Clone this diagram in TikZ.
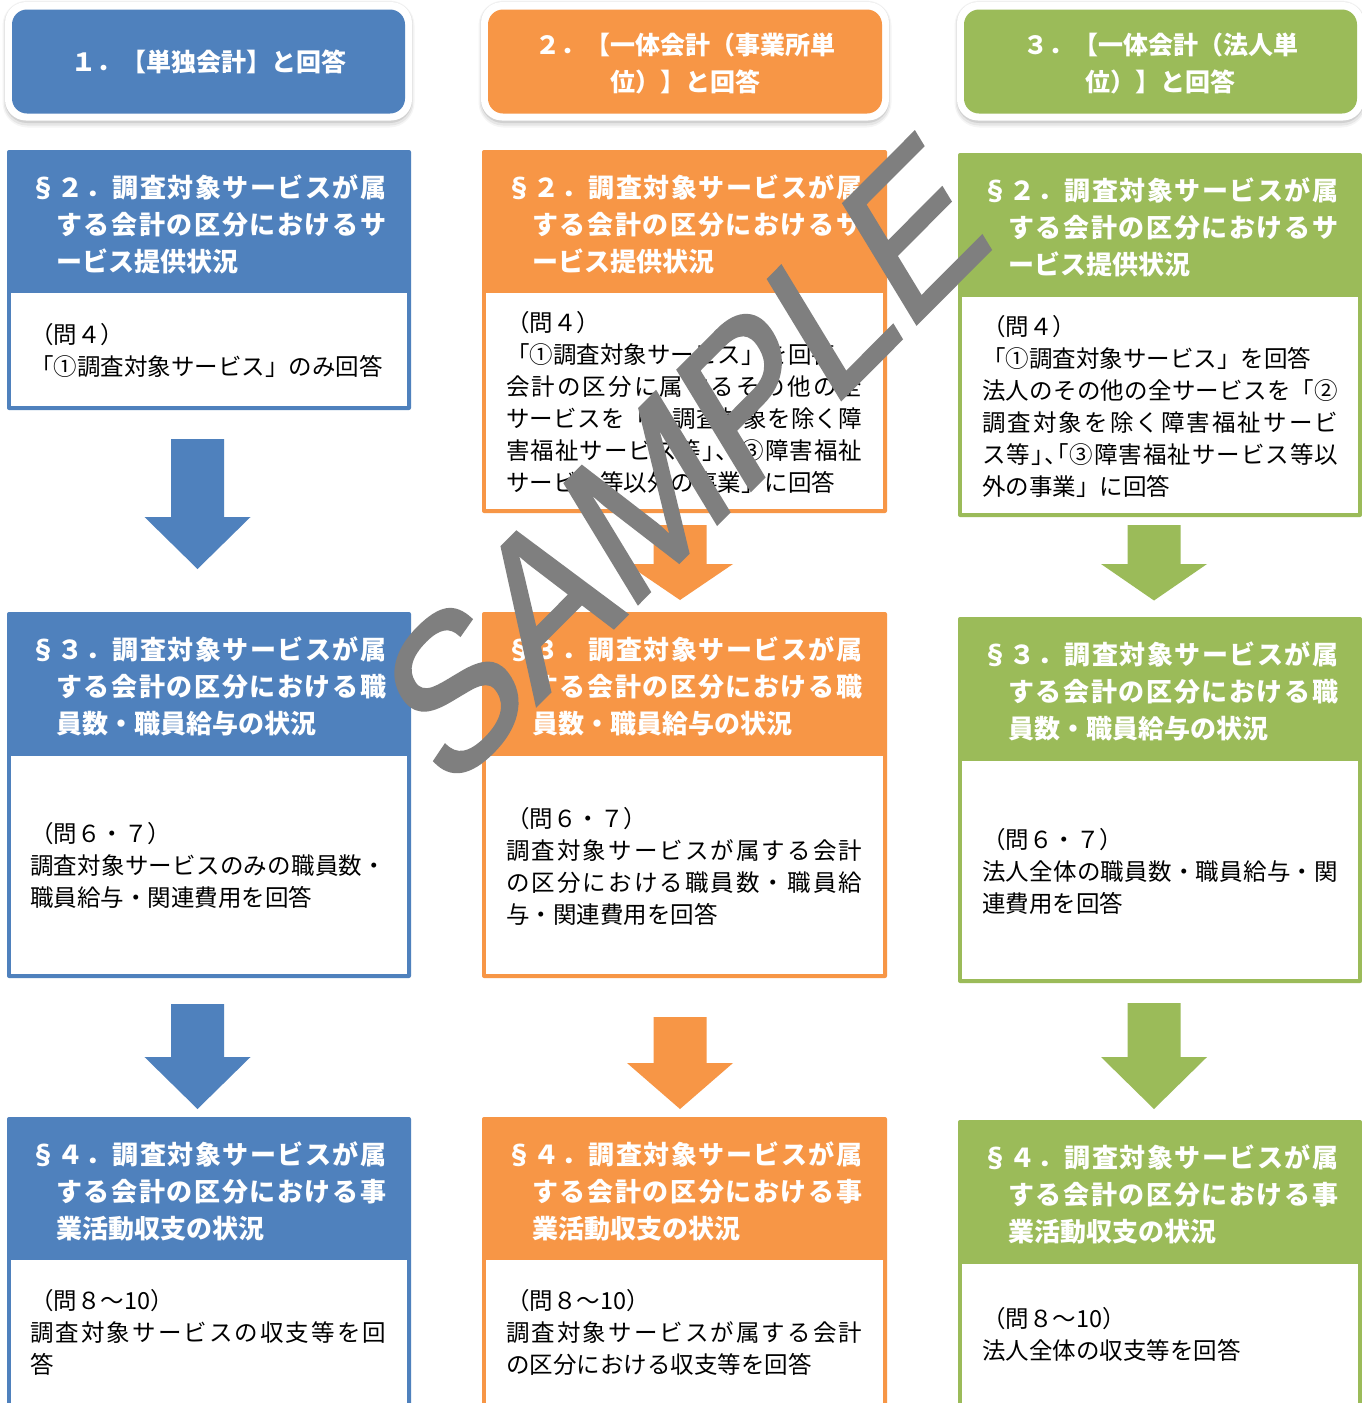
\documentclass[tikz,border=0pt]{standalone}
\usepackage{fontspec}
\newfontfamily\jp{Noto Sans CJK JP}
\newfontfamily\wmfont[FakeBold=1.6]{Liberation Sans}
\definecolor{cblue}{HTML}{4F81BD}
\definecolor{corange}{HTML}{F79646}
\definecolor{cgreen}{HTML}{9BBB59}
\definecolor{wmgray}{HTML}{7F7F7F}
\makeatletter
\newcommand\JL[2]{\hbox to #1{\jl@first#2\relax}}
\def\jl@first#1{#1\jl@rest}
\def\jl@rest#1{\ifx#1\relax\else\hskip 0pt plus 1fil\relax #1\expandafter\jl@rest\fi}
\makeatother
\newcommand\HC{\hbox to .5em{」\hss}}
\newcommand\HT{\hbox to .5em{、\hss}}
\newcommand\HO{\hbox to .5em{\hss「}}
\newcommand\ctrline[1]{\hbox to 0pt{\hss#1\hss}}
\newcommand\hdrtext[3]{\vtop{\JL{356pt}{#1}\hbox{\hskip26pt\JL{330pt}{#2}}\hbox{\hskip26pt\relax #3}}}
\newcommand\secbox[6]{%
  \fill[#6,rounded corners=2pt] (#1,#3) rectangle (#2,#5);
  \fill[white] (#1+4,#4) rectangle (#2-4,#5-4);}
\newcommand\blockarrow[5]{%
  \fill[#5] (#1-26.5,#2) -- (#1+26.5,#2) -- (#1+26.5,#3) -- (#1+53,#3) -- (#1,#4) -- (#1-53,#3) -- (#1-26.5,#3) -- cycle;}
\newcommand\titlebox[3]{%
  \fill[black,opacity=.04,rounded corners=25pt] (#1-2.5,0.5) rectangle (#2+2.5,127.5);
  \fill[black,opacity=.06,rounded corners=23pt] (#1-1.2,1.5) rectangle (#2+1.2,125.5);
  \fill[black,opacity=.09,rounded corners=22pt] (#1,2.5) rectangle (#2,123);
  \fill[white,rounded corners=21pt] (#1,2) rectangle (#2,120.5);
  \fill[#3,rounded corners=15pt] (#1+7,9.5) rectangle (#2-7,113.5);}
\tikzset{
  ttl/.style={inner sep=0pt, anchor=base, text=white, font=\jp\bfseries\fontsize{25}{37}\selectfont},
  hdr/.style={inner sep=0pt, anchor=base west, text=white, font=\jp\bfseries\fontsize{26}{37}\selectfont},
  bdy/.style={inner sep=0pt, anchor=base west, text=black, font=\jp\fontsize{23.5}{32}\selectfont},
  wm/.style={inner sep=0pt, anchor=base west, text=wmgray, font=\wmfont\fontsize{172}{172}\selectfont}
}
\begin{document}
\begin{tikzpicture}[x=1pt,y=-1pt]
\useasboundingbox (0,0) rectangle (1362,1403);
\clip (0,0) rectangle (1362,1403);
\fill[white] (0,0) rectangle (1362,1403);
% title boxes
\titlebox{5}{412}{cblue}
\titlebox{481}{889}{corange}
\titlebox{957}{1364}{cgreen}
\node[ttl] (t1) at (208.5,71.5) {１．【単独会計】と回答};
\node[ttl] (t2) at (685.5,54.5) {\vtop{\ctrline{２．【一体会計（事業所単}\ctrline{位）】と回答}}};
\node[ttl] (t3) at (1160.5,54.5) {\vtop{\ctrline{３．【一体会計（法人単}\ctrline{位）】と回答}}};
% section boxes
\secbox{7}{411}{150}{293}{410}{cblue}
\secbox{7}{411}{612}{756}{978}{cblue}
\secbox{7}{411}{1117}{1260}{1420}{cblue}
\secbox{482}{887}{150}{293}{513}{corange}
\secbox{482}{887}{612}{756}{978}{corange}
\secbox{482}{887}{1117}{1260}{1420}{corange}
\secbox{958}{1362}{153}{297}{517}{cgreen}
\secbox{958}{1362}{617}{761}{983}{cgreen}
\secbox{958}{1362}{1120}{1264}{1420}{cgreen}
% arrows
\blockarrow{197.5}{439}{517}{569}{cblue}
\blockarrow{197.5}{1004}{1057}{1109}{cblue}
\blockarrow{680}{525}{564}{600}{corange}
\blockarrow{680}{1017}{1063}{1109}{corange}
\blockarrow{1154}{525}{564}{600.5}{cgreen}
\blockarrow{1154}{1003}{1057}{1109}{cgreen}
% header texts
\node[hdr] (h12) at (30,197) {\hdrtext{§２．調査対象サービスが属}{する会計の区分におけるサ}{ービス提供状況}};
\node[hdr] (h13) at (30,659) {\hdrtext{§３．調査対象サービスが属}{する会計の区分における職}{員数・職員給与の状況}};
\node[hdr] (h14) at (30,1164) {\hdrtext{§４．調査対象サービスが属}{する会計の区分における事}{業活動収支の状況}};
\node[hdr] (h22) at (506,197) {\hdrtext{§２．調査対象サービスが属}{する会計の区分におけるサ}{ービス提供状況}};
\node[hdr] (h23) at (506,659) {\hdrtext{§３．調査対象サービスが属}{する会計の区分における職}{員数・職員給与の状況}};
\node[hdr] (h24) at (506,1164) {\hdrtext{§４．調査対象サービスが属}{する会計の区分における事}{業活動収支の状況}};
\node[hdr] (h32) at (982,200) {\hdrtext{§２．調査対象サービスが属}{する会計の区分におけるサ}{ービス提供状況}};
\node[hdr] (h33) at (982,664) {\hdrtext{§３．調査対象サービスが属}{する会計の区分における職}{員数・職員給与の状況}};
\node[hdr] (h34) at (982,1167) {\hdrtext{§４．調査対象サービスが属}{する会計の区分における事}{業活動収支の状況}};
% body texts
\node[bdy] (b12) at (30,343) {\vtop{\hbox{（問４）}\hbox{「①調査対象サービス」のみ回答}}};
\node[bdy] (b13) at (30,842) {\vtop{\hbox{（問６・７）}\JL{356pt}{調査対象サービスのみの職員数・}\hbox{職員給与・関連費用を回答}}};
\node[bdy] (b14) at (30,1309) {\vtop{\hbox{（問８～10）}\JL{356pt}{調査対象サービスの収支等を回}\hbox{答}}};
\node[bdy] (b22) at (506,331) {\vtop{\hbox{（問４）}\hbox{「①調査対象サービス」を回答}\JL{356pt}{会計の区分に属するその他の全}\JL{356pt}{サービスを「②調査対象を除く障}\JL{356pt}{害福祉サービス等\HC\HT\HO③障害福祉}\hbox{サービス等以外の事業」に回答}}};
\node[bdy] (b23) at (506,827) {\vtop{\hbox{（問６・７）}\JL{356pt}{調査対象サービスが属する会計}\JL{356pt}{の区分における職員数・職員給}\hbox{与・関連費用を回答}}};
\node[bdy] (b24) at (506,1309) {\vtop{\hbox{（問８～10）}\JL{356pt}{調査対象サービスが属する会計}\hbox{の区分における収支等を回答}}};
\node[bdy] (b32) at (982,335) {\vtop{\hbox{（問４）}\hbox{「①調査対象サービス」を回答}\JL{356pt}{法人のその他の全サービスを「②}\JL{356pt}{調査対象を除く障害福祉サービ}\JL{356pt}{ス等\HC\HT\HO③障害福祉サービス等以}\hbox{外の事業」に回答}}};
\node[bdy] (b33) at (982,848) {\vtop{\hbox{（問６・７）}\JL{356pt}{法人全体の職員数・職員給与・関}\hbox{連費用を回答}}};
\node[bdy] (b34) at (982,1327) {\vtop{\hbox{（問８～10）}\hbox{法人全体の収支等を回答}}};
% watermark
\begin{scope}[shift={(446,796)}, yscale=1.285]
\node[wm, transform shape, rotate=38] (wmk) at (0,0) {SAMPLE};
\end{scope}
\end{tikzpicture}
\end{document}
